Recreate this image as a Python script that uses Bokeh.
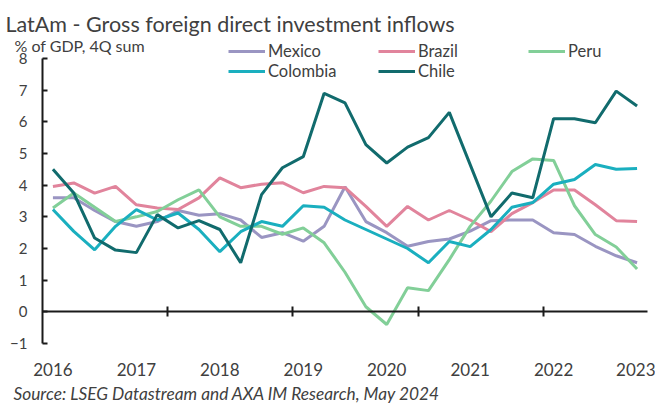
from bokeh.plotting import figure
from bokeh.models import FixedTicker, LinearAxis, Range1d, Label, Legend, LegendItem
from bokeh.embed import file_html
from bokeh.resources import INLINE

# ---------------- data ----------------
years = ["2016", "2017", "2018", "2019", "2020", "2021", "2022", "2023"]
quarters = list(range(29))  # quarterly observations, one label every 4 quarters

mexico = [3.6, 3.6, 3.2, 2.85, 2.7, 2.85, 3.2, 3.05, 3.1, 2.9, 2.35, 2.5, 2.23, 2.7, 3.95,
          2.85, 2.5, 2.07, 2.22, 2.3, 2.55, 2.88, 2.9, 2.9, 2.5, 2.44, 2.07, 1.77, 1.55]
brazil = [3.96, 4.07, 3.75, 3.96, 3.38, 3.28, 3.23, 3.6, 4.23, 3.92, 4.03, 4.08, 3.76, 3.96, 3.92,
          3.33, 2.7, 3.33, 2.9, 3.2, 2.9, 2.53, 3.1, 3.45, 3.85, 3.85, 3.38, 2.88, 2.85]
peru = [3.28, 3.75, 3.3, 2.85, 3.0, 3.17, 3.54, 3.85, 3.0, 2.7, 2.7, 2.45, 2.65, 2.18, 1.25,
        0.16, -0.4, 0.76, 0.67, 1.65, 2.7, 3.5, 4.43, 4.83, 4.78, 3.35, 2.44, 2.05, 1.35]
colombia = [3.23, 2.54, 1.96, 2.7, 3.23, 2.9, 3.12, 2.6, 1.9, 2.53, 2.85, 2.7, 3.35, 3.3, 2.9,
            2.6, 2.3, 2.0, 1.55, 2.22, 2.06, 2.6, 3.3, 3.45, 4.03, 4.18, 4.65, 4.5, 4.53]
chile = [4.5, 3.75, 2.33, 1.95, 1.87, 3.07, 2.65, 2.88, 2.6, 1.55, 3.7, 4.55, 4.9, 6.9, 6.6,
         5.28, 4.7, 5.2, 5.5, 6.3, 4.65, 3.0, 3.75, 3.6, 6.1, 6.1, 5.97, 6.97, 6.5]

series_names = ["Mexico", "Brazil", "Peru", "Colombia", "Chile"]
series_values = [mexico, brazil, peru, colombia, chile]
series_colors = ["#9A95C2", "#E1849C", "#82CF98", "#1AAFBF", "#116B6D"]

y_ticks = list(range(-1, 9))

FONT = "Lato"
TXT = "#404040"
AX = "#1a1a1a"

# ---------------- geometry ----------------
W, H = 655, 403
PX_X = 605 / 29      # pixels per quarter
PX_Y = 285 / 9       # pixels per percentage point
X0_PIX, Y8_PIX = 42, 58   # pixel of x=-0.5 and of y=8


def dx(px):
    return -0.5 + (px - X0_PIX) / PX_X


def dy(py):
    return 8 + (Y8_PIX - py) / PX_Y


p = figure(width=W, height=H, x_range=Range1d(dx(0), dx(W)), y_range=Range1d(dy(H), dy(0)),
           output_backend="svg", toolbar_location=None, title=None,
           min_border_left=0, min_border_right=0, min_border_top=0, min_border_bottom=0)
p.outline_line_color = None
p.xgrid.visible = False
p.ygrid.visible = False
p.background_fill_color = "white"
p.border_fill_color = "white"

# y axis, drawn at the left edge of the category range
p.yaxis.fixed_location = -0.5
p.yaxis.ticker = FixedTicker(ticks=y_ticks, minor_ticks=[])
p.yaxis.bounds = (-1, 8)
p.yaxis.major_tick_in = 5
p.yaxis.major_tick_out = 0
p.yaxis.minor_tick_line_color = None
p.yaxis.axis_line_width = 2
p.yaxis.axis_line_color = AX
p.yaxis.major_tick_line_width = 2
p.yaxis.major_tick_line_color = AX
p.yaxis.major_label_standoff = 15
p.yaxis.major_label_text_font = FONT
p.yaxis.major_label_text_font_size = "15px"
p.yaxis.major_label_text_color = TXT

# x axis (year labels only), under the bottom of the value range
label_pos = list(range(0, len(quarters), 4))
p.xaxis.fixed_location = -1
p.xaxis.ticker = FixedTicker(ticks=label_pos, minor_ticks=[])
p.xaxis.major_label_overrides = {pos: yr for pos, yr in zip(label_pos, years)}
p.xaxis.axis_line_color = None
p.xaxis.major_tick_line_color = None
p.xaxis.minor_tick_line_color = None
p.xaxis.major_label_standoff = 13
p.xaxis.major_label_text_font = FONT
p.xaxis.major_label_text_font_size = "17px"
p.xaxis.major_label_text_color = TXT

# zero line axis with category-boundary ticks every 6 quarters (no labels)
boundary_ticks = [i - 0.5 for i in range(6, len(quarters), 6)]
zero_axis = LinearAxis(fixed_location=0, bounds=(-0.5, len(quarters) - 0.5),
                       ticker=FixedTicker(ticks=boundary_ticks, minor_ticks=[]),
                       major_tick_in=5, major_tick_out=5, axis_line_width=2, axis_line_color=AX,
                       major_tick_line_width=2, major_tick_line_color=AX,
                       minor_tick_line_color=None,
                       major_label_overrides={t: "" for t in boundary_ticks},
                       major_label_standoff=0)
p.add_layout(zero_axis, "below")

# lines
items = []
for name, vals, col in zip(series_names, series_values, series_colors):
    r = p.line(quarters, vals, line_color=col, line_width=3)
    items.append(LegendItem(label=name, renderers=[r]))

legend = Legend(items=items, location=(228, H - 81), orientation="horizontal", ncols=3,
                glyph_width=37, glyph_height=20, label_height=20, label_width=110,
                label_standoff=3, spacing=0, padding=0, margin=0,
                border_line_color=None, background_fill_alpha=0,
                label_text_font=FONT, label_text_font_size="16.5px", label_text_color=TXT)
p.add_layout(legend)

# texts
p.add_layout(Label(x=dx(5), y=dy(23), text="LatAm - Gross foreign direct investment inflows",
                   text_font=FONT, text_font_size="21.5px", text_color=TXT,
                   text_baseline="alphabetic", text_align="left"))
p.add_layout(Label(x=dx(14), y=dy(45), text="% of GDP, 4Q sum",
                   text_font=FONT, text_font_size="16px", text_color=TXT,
                   text_baseline="alphabetic", text_align="left"))
p.add_layout(Label(x=dx(13), y=dy(393), text="Source: LSEG Datastream and AXA IM Research, May 2024",
                   text_font=FONT, text_font_size="17.3px", text_color=TXT, text_font_style="italic",
                   text_baseline="alphabetic", text_align="left"))

open("out.html", "w").write(file_html(p, INLINE))
